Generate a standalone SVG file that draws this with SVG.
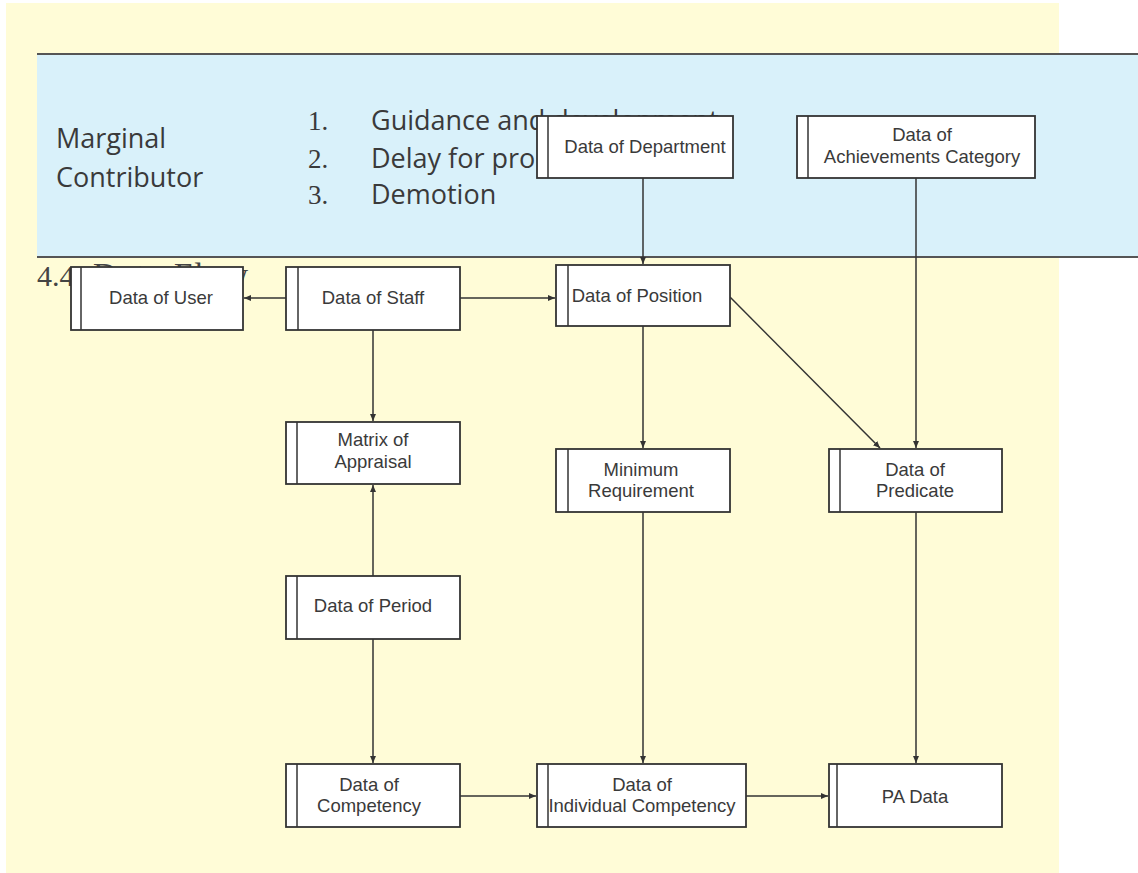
<svg xmlns="http://www.w3.org/2000/svg" width="1138" height="873" viewBox="0 0 1138 873">
<defs>
<style>
.box{fill:#fff;stroke:#333;stroke-width:1.8}
.dv{stroke:#333;stroke-width:1.5}
.lbl{font-family:"Liberation Sans",Arial,sans-serif;font-size:18.5px;fill:#3a3a3a;text-anchor:middle}
.conn{stroke:#333;stroke-width:1.5;fill:none;marker-end:url(#ah)}
.band{font-family:"Open Sans","Liberation Sans",sans-serif;font-size:27px;fill:#3a3a3a}
.num{font-family:"Liberation Serif","Times New Roman",serif;font-size:27px;fill:#3a3a3a}
</style>
<marker id="ah" markerUnits="userSpaceOnUse" markerWidth="8" markerHeight="7" refX="7" refY="3.5" orient="auto">
<path d="M0,0.5 L7,3.5 L0,6.5 z" fill="#333"/>
</marker>
</defs>
<rect x="0" y="0" width="1138" height="873" fill="#fff"/>
<rect x="6" y="3" width="1053" height="870" fill="#fffcd7"/>
<g id="band">
<rect x="37" y="54" width="1101" height="203" fill="#d9f1fa"/>
<line x1="37" y1="54" x2="1138" y2="54" stroke="#555" stroke-width="2"/>
<line x1="37" y1="257" x2="1138" y2="257" stroke="#555" stroke-width="2"/>
<text class="band" x="56" y="148">Marginal</text>
<text class="band" x="56" y="187">Contributor</text>
<text class="num" x="308" y="130">1.</text>
<text class="num" x="308" y="168">2.</text>
<text class="num" x="308" y="204">3.</text>
<text class="band" x="371" y="130">Guidance and development</text>
<text class="band" x="371" y="168">Delay for promotion</text>
<text class="band" x="371" y="204">Demotion</text>
</g>
<text x="37" y="286" font-family="'Liberation Serif','Times New Roman',serif" font-size="30" fill="#444">4.4<tspan x="93" font-size="33" textLength="155">Data Flow</tspan></text>
<g id="connectors">
<path class="conn" d="M286,298 L244,298"/>
<path class="conn" d="M460,298 L555,298"/>
<path class="conn" d="M643,178 L643,264"/>
<path class="conn" d="M916,178 L916,448"/>
<path class="conn" d="M730,297 L880,448"/>
<path class="conn" d="M373,330 L373,421"/>
<path class="conn" d="M373,576 L373,485"/>
<path class="conn" d="M373,639 L373,763"/>
<path class="conn" d="M643,326 L643,448"/>
<path class="conn" d="M643,512 L643,763"/>
<path class="conn" d="M916,512 L916,763"/>
<path class="conn" d="M460,796 L536,796"/>
<path class="conn" d="M746,796 L828,796"/>
</g>
<g id="n-dept"><rect class="box" x="537" y="116" width="196" height="62"/><line class="dv" x1="548" y1="116" x2="548" y2="178"/><text class="lbl" x="645" y="153">Data of Department</text></g>
<g id="n-ach"><rect class="box" x="797" y="116" width="238" height="62"/><line class="dv" x1="808" y1="116" x2="808" y2="178"/><text class="lbl" x="922" y="141">Data of</text><text class="lbl" x="922" y="163">Achievements Category</text></g>
<g id="n-user"><rect class="box" x="71" y="267" width="172" height="63"/><line class="dv" x1="81" y1="267" x2="81" y2="330"/><text class="lbl" x="161" y="304">Data of User</text></g>
<g id="n-staff"><rect class="box" x="286" y="267" width="174" height="63"/><line class="dv" x1="298" y1="267" x2="298" y2="330"/><text class="lbl" x="373" y="304">Data of Staff</text></g>
<g id="n-position"><rect class="box" x="556" y="265" width="174" height="61"/><line class="dv" x1="568" y1="265" x2="568" y2="326"/><text class="lbl" x="637" y="302">Data of Position</text></g>
<g id="n-matrix"><rect class="box" x="286" y="422" width="174" height="62"/><line class="dv" x1="297" y1="422" x2="297" y2="484"/><text class="lbl" x="373" y="446">Matrix of</text><text class="lbl" x="373" y="468">Appraisal</text></g>
<g id="n-minimum"><rect class="box" x="556" y="449" width="174" height="63"/><line class="dv" x1="568" y1="449" x2="568" y2="512"/><text class="lbl" x="641" y="476">Minimum</text><text class="lbl" x="641" y="497">Requirement</text></g>
<g id="n-predicate"><rect class="box" x="829" y="449" width="173" height="63"/><line class="dv" x1="840" y1="449" x2="840" y2="512"/><text class="lbl" x="915" y="476">Data of</text><text class="lbl" x="915" y="497">Predicate</text></g>
<g id="n-period"><rect class="box" x="286" y="576" width="174" height="63"/><line class="dv" x1="297" y1="576" x2="297" y2="639"/><text class="lbl" x="373" y="612">Data of Period</text></g>
<g id="n-competency"><rect class="box" x="286" y="764" width="174" height="63"/><line class="dv" x1="297" y1="764" x2="297" y2="827"/><text class="lbl" x="369" y="791">Data of</text><text class="lbl" x="369" y="812">Competency</text></g>
<g id="n-indiv"><rect class="box" x="537" y="764" width="209" height="63"/><line class="dv" x1="548" y1="764" x2="548" y2="827"/><text class="lbl" x="642" y="791">Data of</text><text class="lbl" x="642" y="812">Individual Competency</text></g>
<g id="n-pa"><rect class="box" x="829" y="764" width="173" height="63"/><line class="dv" x1="837" y1="764" x2="837" y2="827"/><text class="lbl" x="915" y="803">PA Data</text></g>
</svg>
